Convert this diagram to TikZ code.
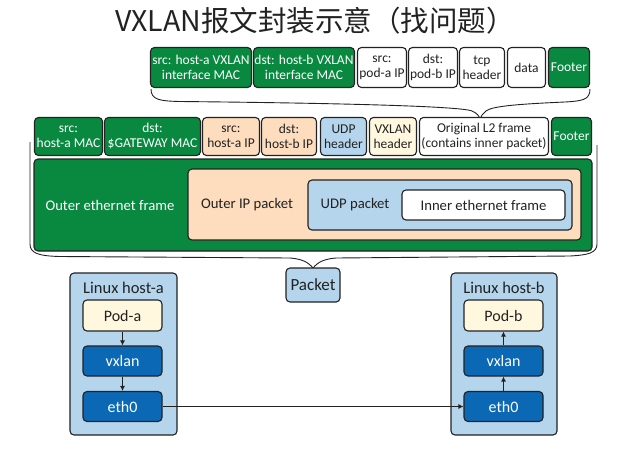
\documentclass[tikz,border=0pt]{standalone}
\usepackage{fontspec}
\setmainfont{Carlito}
\newfontfamily\cjkfont{Noto Sans CJK SC}
\usetikzlibrary{arrows.meta}
\definecolor{frgreen}{HTML}{08893F}
\definecolor{frpeach}{HTML}{FDDDBD}
\definecolor{frblue}{HTML}{B4D5EC}
\definecolor{fryellow}{HTML}{FFF8DF}
\definecolor{frdark}{HTML}{0B68B5}
\definecolor{frline}{HTML}{222222}
\tikzset{
  fld/.style={draw=frline,line width=1.1pt,rounded corners=4pt,align=center,inner sep=0.5pt,
    text=frline,fill=white,font=\fontsize{13.5}{15}\selectfont},
  grn/.style={fld,fill=frgreen,text=white},
  pch/.style={fld,fill=frpeach},
  blu/.style={fld,fill=frblue},
  ylw/.style={fld,fill=fryellow},
  dev/.style={fld,fill=frdark,text=white,minimum width=79,minimum height=30,font=\fontsize{16}{17}\selectfont},
  lbl/.style={inner sep=0pt,text=frline,font=\fontsize{14.7}{16}\selectfont},
  brc/.style={draw=frline,line width=0.9pt},
  arr/.style={draw=frline,line width=0.9pt,-{Latex[length=5pt,width=5pt]}}
}
\begin{document}
\begin{tikzpicture}[x=1pt,y=-1pt]
\useasboundingbox (0,0) rectangle (631,458);
%title
\node[text=frline,font=\cjkfont\fontsize{28.5}{29}\selectfont] (title) at (315,21) {VXLAN报文封装示意（找问题）};
%inner packet fields
\node[grn,minimum width=101,minimum height=40] (ta) at (201,67.5) {src: host-a VXLAN\\interface MAC};
\node[grn,minimum width=101,minimum height=40] (tb) at (304,67.5) {dst: host-b VXLAN\\interface MAC};
\node[fld,minimum width=49,minimum height=40] (tc) at (382,67.5) {src:\\pod-a IP};
\node[fld,minimum width=49,minimum height=40] (td) at (433,67.5) {dst:\\pod-b IP};
\node[fld,minimum width=45,minimum height=40] (te) at (482,67.5) {tcp\\header};
\node[fld,minimum width=38,minimum height=40] (tf) at (526.5,67.5) {data};
\node[grn,minimum width=41,minimum height=40] (tg) at (569,67.5) {Footer};
%brace
\draw[brc](151,89) .. controls (151,100) and (160,101) .. (180,101.5) .. controls (330,103) and (460,106) .. (472,111) .. controls (477,113) and (479,116) .. (480,119);
\draw[brc](590,89) .. controls (590,100) and (582,101) .. (565,102) .. controls (520,104) and (492,106) .. (486,111) .. controls (483,113) and (481,116) .. (480,119);
%outer packet fields
\node[grn,minimum width=68,minimum height=38] (sa) at (68.5,136.5) {src:\\host-a MAC};
\node[grn,minimum width=96,minimum height=38] (sb) at (152.5,136.5) {dst:\\\$GATEWAY MAC};
\node[pch,minimum width=57,minimum height=38] (sc) at (231,136.5) {src:\\host-a IP};
\node[pch,minimum width=55,minimum height=38] (sd) at (289,136.5) {dst:\\host-b IP};
\node[blu,minimum width=46,minimum height=38] (se) at (343.5,136.5) {UDP\\header};
\node[ylw,minimum width=47,minimum height=38] (sf) at (393,136.5) {VXLAN\\header};
\node[fld,minimum width=129,minimum height=38] (sg) at (484,136.5) {Original L2 frame\\(contains inner packet)};
\node[grn,minimum width=40,minimum height=38] (sh) at (571.5,136.5) {Footer};
%nested frames
\node[grn,minimum width=558,minimum height=92] (eth) at (313,205) {};
\node[pch,minimum width=393,minimum height=71] (ip) at (384.5,204.5) {};
\node[blu,minimum width=264,minimum height=50] (udp) at (440,205) {};
\node[fld,minimum width=163,minimum height=30,font=\fontsize{14.7}{16}\selectfont] (inner) at (483.5,205) {Inner ethernet frame};
\node[lbl,text=white] (ethl) at (110,205) {Outer ethernet frame};
\node[lbl] (ipl) at (247,205) {Outer IP packet};
\node[lbl] (udpl) at (355,205) {UDP packet};
%brace
\draw[brc](30,142)--(30,244) .. controls (30,253) and (38,256) .. (60,256.5)--(290,258) .. controls (302,259) and (308,262) .. (313,268);
\draw[brc](597,145)--(597,244) .. controls (597,253) and (588,255) .. (570,256)--(336,258) .. controls (324,259) and (318,262) .. (313,268);
\node[blu,minimum width=54,minimum height=34,font=\fontsize{17}{18}\selectfont] (pkt) at (313,285) {Packet};
%hosts
\node[blu,minimum width=107,minimum height=162] (hosta) at (123.5,354) {};
\node[lbl,font=\fontsize{16.5}{17}\selectfont] (hostal) at (123.5,288) {Linux host-a};
\node[ylw,minimum width=79,minimum height=31,font=\fontsize{16}{17}\selectfont] (poda) at (122.5,315.5) {Pod-a};
\node[dev] (vxa) at (122.5,361) {vxlan};
\node[dev] (etha) at (122.5,406.5) {eth0};
\node[blu,minimum width=106,minimum height=162] (hostb) at (504,354) {};
\node[lbl,font=\fontsize{16.5}{17}\selectfont] (hostbl) at (504,288) {Linux host-b};
\node[ylw,minimum width=79,minimum height=31,font=\fontsize{16}{17}\selectfont] (podb) at (503.5,315.5) {Pod-b};
\node[dev] (vxb) at (503.5,361) {vxlan};
\node[dev] (ethb) at (503.5,406.5) {eth0};
%arrows
\draw[arr](poda)--(vxa);
\draw[arr](vxa)--(etha);
\draw[arr](ethb)--(vxb);
\draw[arr](vxb)--(podb);
\draw[arr](etha)--(ethb);
\end{tikzpicture}
\end{document}
